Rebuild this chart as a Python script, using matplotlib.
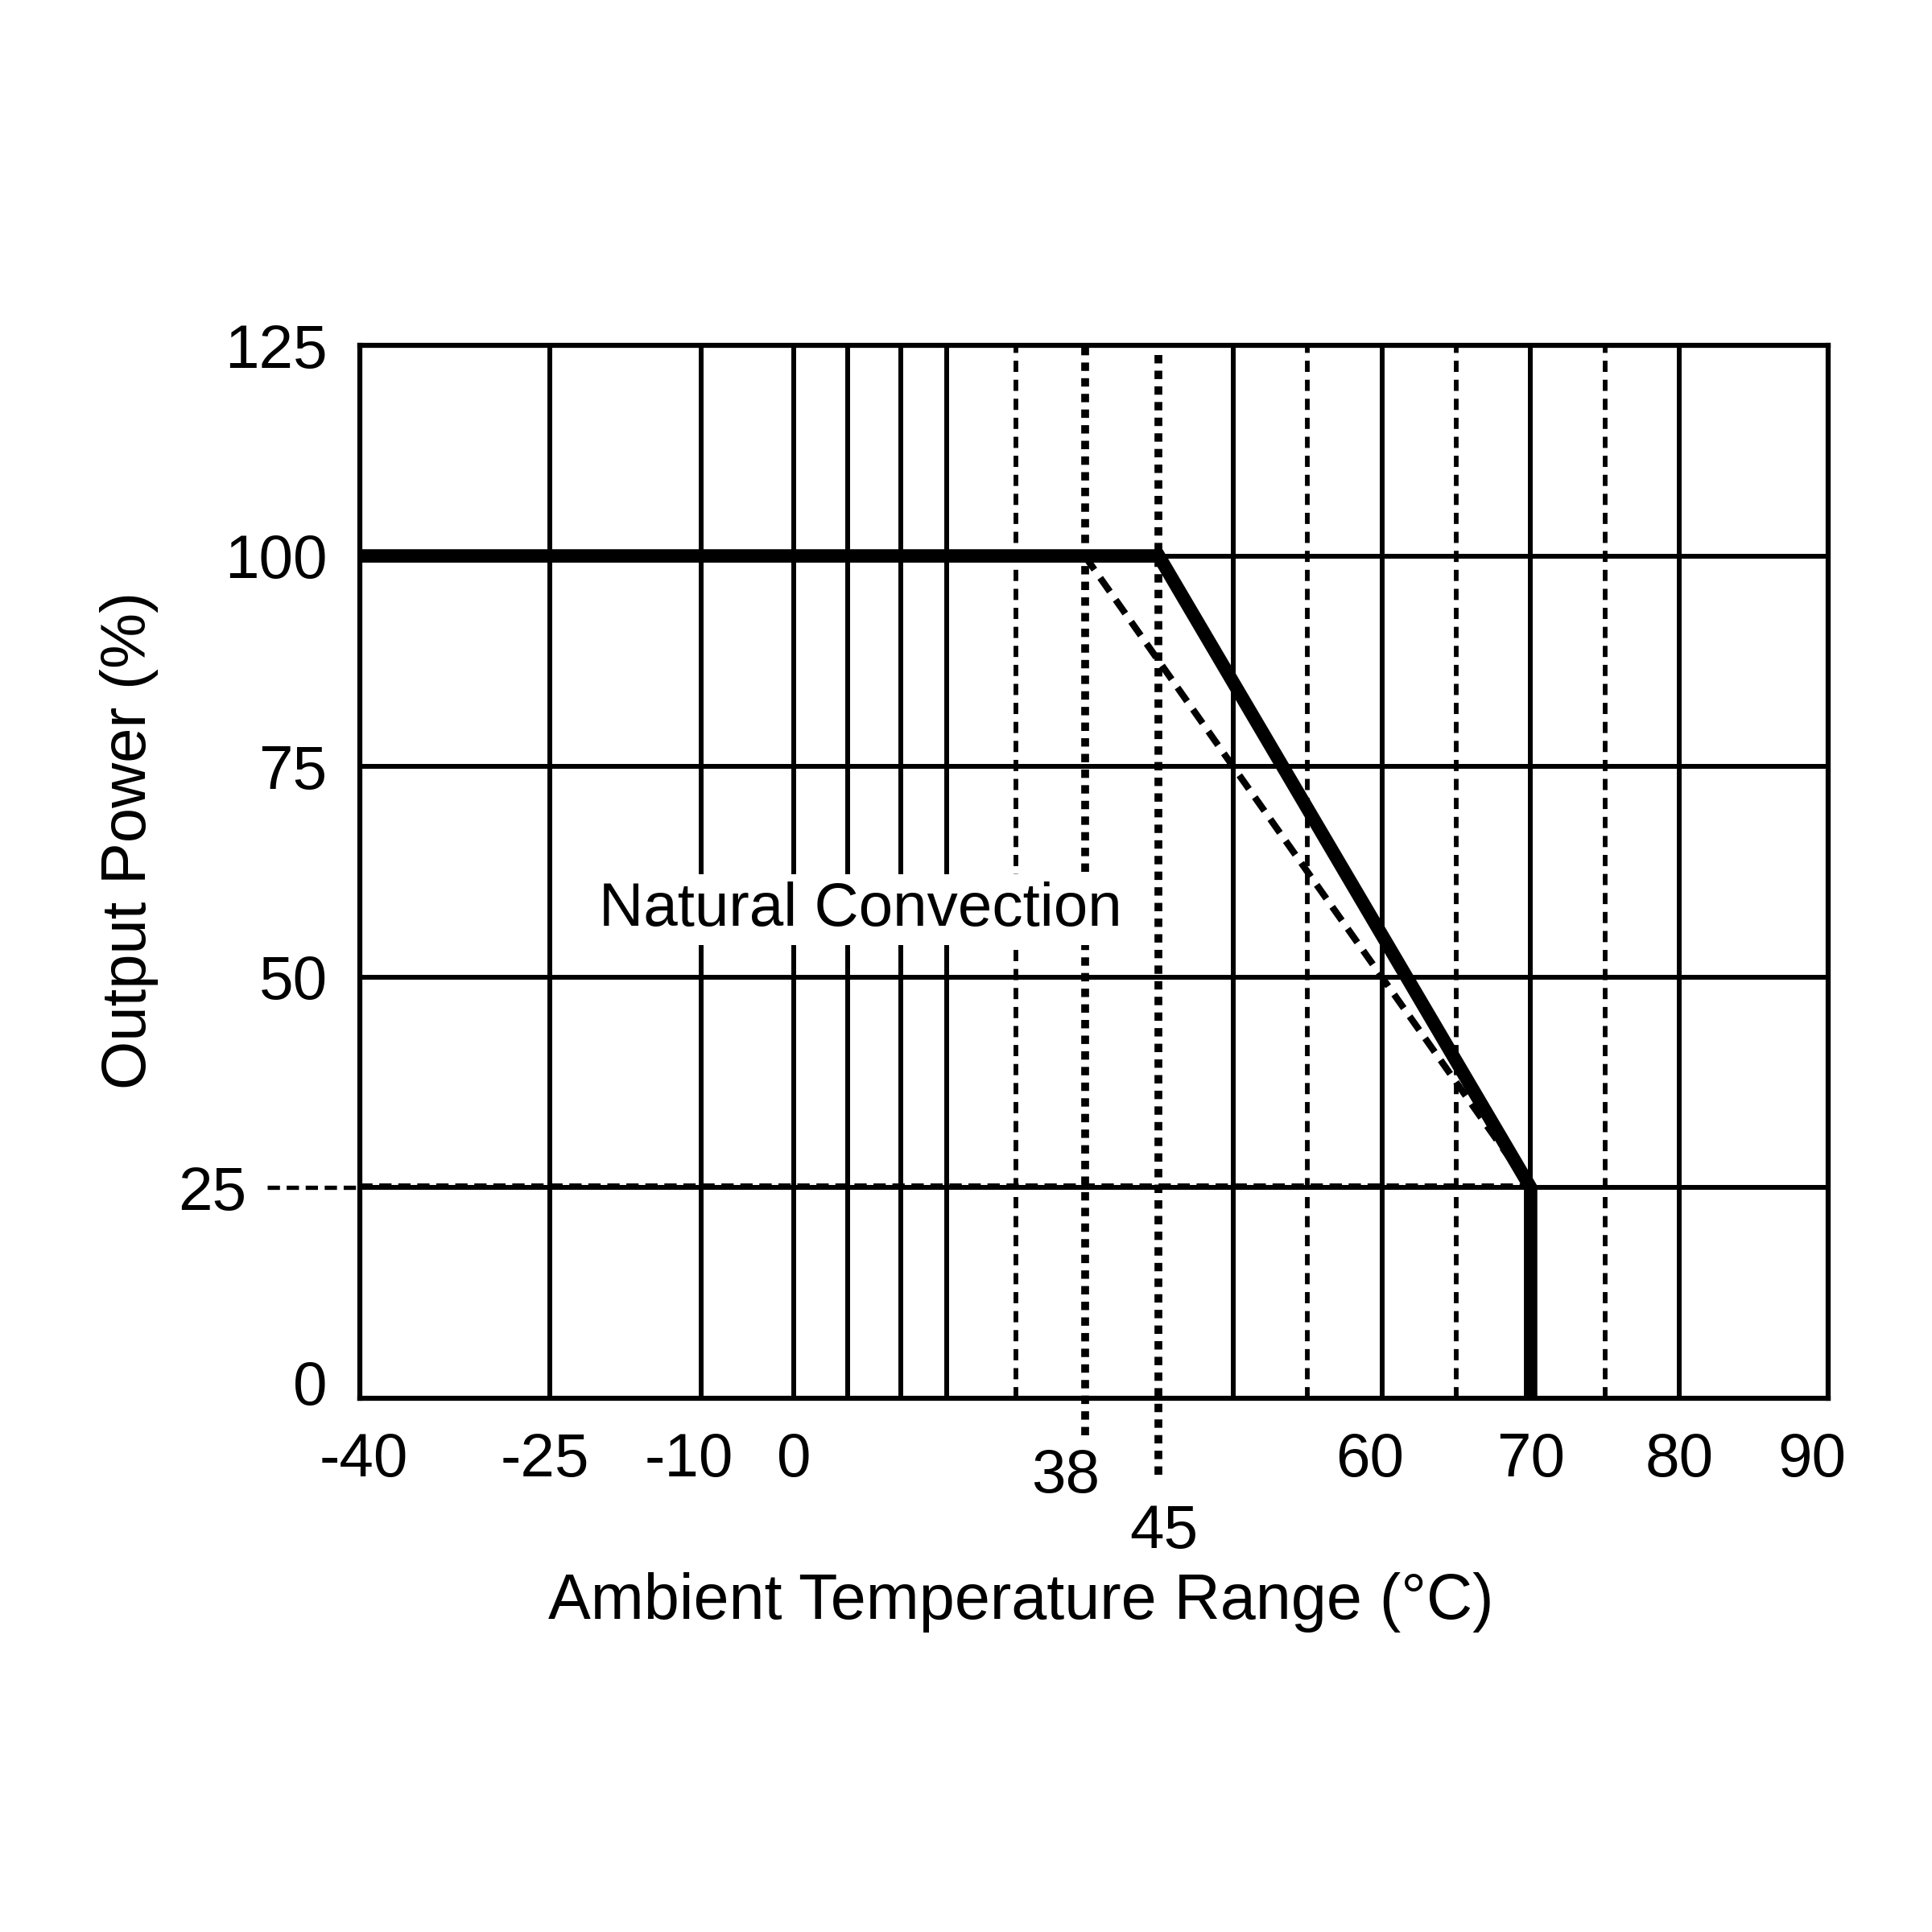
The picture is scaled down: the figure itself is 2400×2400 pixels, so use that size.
import numpy as np
import matplotlib
matplotlib.use("Agg")
import matplotlib.pyplot as plt
from matplotlib.transforms import ScaledTranslation

plt.rcParams['font.family'] = ['Liberation Sans', 'DejaVu Sans']
plt.rcParams['lines.scale_dashes'] = False

# derating curves (temperature in C, output power in %)
temp_main = [-40, 45, 70, 70]
power_main = [100, 100, 25, 0]
temp_alt = [38, 50, 60, 70]
power_alt = [100, 75, 50, 25]

x_ticks = [-40, -25, -10, 0, 38, 45, 60, 70, 80, 90]
x_ticklabels = ['-40', '-25', '-10', '0', '38', '45', '60', '70', '80', '90']
y_ticks = [0, 25, 50, 75, 100, 125]
y_ticklabels = ['0', '25', '50', '75', '100', '125']

grid_solid = [-25, -10, 0, 7, 14, 20, 50, 60, 70, 80]
grid_dashed = [29, 55, 65, 75]
marked_temps = [38, 45]
power_grid = [25, 50, 75, 100]
limit_power = 25

# the printed temperature axis is not uniform, so map it piecewise
scale_temps = [-100, -40, -25, -10, 0, 38, 45, 90, 150]
scale_pos = [-618, 0, 154, 277, 352, 588, 648, 1191, 1915]


def fwd(t):
    return np.interp(t, scale_temps, scale_pos)


def inv(p):
    return np.interp(p, scale_pos, scale_temps)


fig = plt.figure(figsize=(24, 24), dpi=100)
ax = fig.add_axes([447 / 2400, 1 - 1737 / 2400, 1824 / 2400, 1308 / 2400])
ax.set_xscale('function', functions=(fwd, inv))
ax.set_xlim(-40, 90)
ax.set_ylim(0, 125)

grid_kw = dict(color='black', lw=4.3, zorder=1)
for t in grid_solid:
    ax.axvline(t, **grid_kw)
for t in grid_dashed:
    ax.axvline(t, color='black', lw=4.2, dashes=(10, 7), zorder=1)
for t, lo in zip(marked_temps, [-0.035, -0.073]):
    ax.axvline(t, ymin=lo, ymax=1, color='black', lw=7, dashes=(7.5, 6.5),
               zorder=1, clip_on=False)
for p in power_grid:
    ax.axhline(p, **grid_kw)

# 25 % limit marker, running out past the y axis
ax.plot([-40, 70], [limit_power, limit_power], color='black', lw=3.5,
        dashes=(11, 6), zorder=2,
        transform=ax.transData + ScaledTranslation(0, 0.03, fig.dpi_scale_trans))
ax.plot([-0.063, 0], [limit_power, limit_power], color='black', lw=3.8,
        dashes=(11, 6), clip_on=False,
        transform=ax.get_yaxis_transform())

ax.plot(temp_alt, power_alt, color='black', lw=6, dashes=(15, 9), zorder=4)
ax.plot(temp_main, power_main, color='black', lw=12, zorder=5,
        solid_joinstyle='miter')

ax.text(8.7, 58, 'Natural Convection', fontsize=55, ha='center', va='center',
        zorder=3, bbox=dict(facecolor='white', edgecolor='none', pad=6))

ax.set_xticks(x_ticks)
ax.set_xticklabels(x_ticklabels, fontsize=55)
ax.set_yticks(y_ticks)
ax.set_yticklabels(y_ticklabels, fontsize=55)
ax.minorticks_off()
ax.tick_params(length=0, pad=30, axis='x')
ax.tick_params(length=0, pad=29, axis='y')

x_shift = {-40: (5, 0), -25: (-6, 0), -10: (-15, 0), 38: (-24, -20),
           45: (6, -89), 60: (-15, 0), 90: (-20, 0)}
for lab, t in zip(ax.get_xticklabels(), x_ticks):
    dx, dy = x_shift.get(t, (0, 0))
    lab.set_transform(lab.get_transform()
                      + ScaledTranslation(dx / 100, dy / 100, fig.dpi_scale_trans))
y_shift = {0: (0, 20), 25: (-100, 0)}
for lab, p in zip(ax.get_yticklabels(), y_ticks):
    dx, dy = y_shift.get(p, (0, 0))
    lab.set_transform(lab.get_transform()
                      + ScaledTranslation(dx / 100, dy / 100, fig.dpi_scale_trans))

ax.set_xlabel('Ambient Temperature Range (\u00b0C)', fontsize=57, va='center')
ax.xaxis.set_label_coords(0.45, -0.194)
ax.set_ylabel('Output Power (%)', fontsize=56, va='center')
ax.yaxis.set_label_coords(-0.157, 0.53)

for s in ax.spines.values():
    s.set_linewidth(4.5)
    s.set_zorder(6)

fig.savefig('out.png', dpi=100, facecolor='white')
